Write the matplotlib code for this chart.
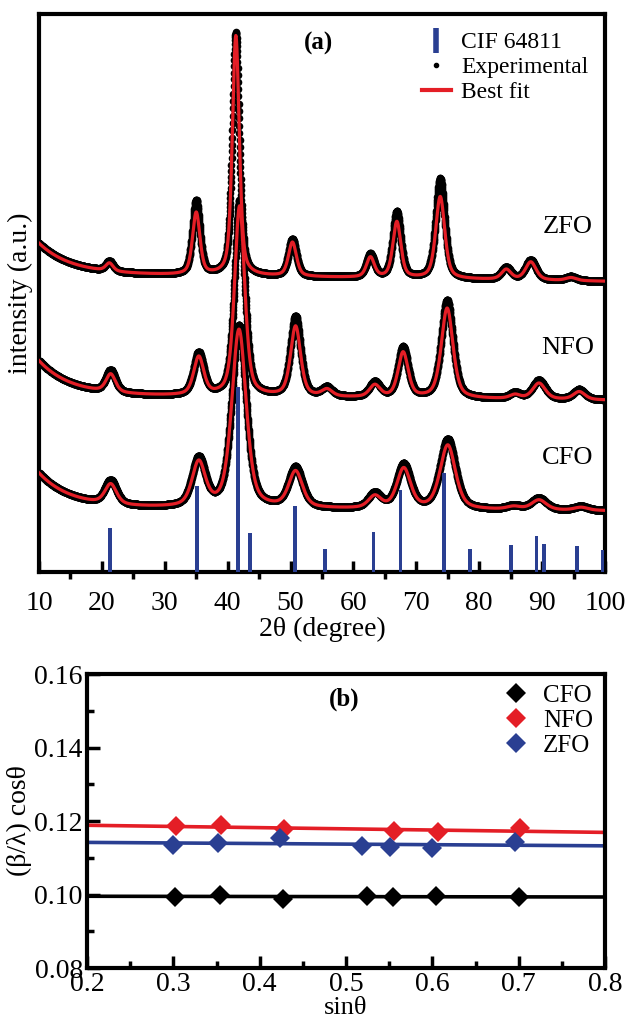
import numpy as np
import matplotlib
matplotlib.use("Agg")
import matplotlib.pyplot as plt
from matplotlib.lines import Line2D
from matplotlib.ticker import MultipleLocator

plt.rcParams['font.family'] = ['Liberation Serif', 'DejaVu Serif']

RED = '#e41e26'
BLUE = '#2a3f92'

# ---------------- (a) XRD patterns ----------------
# reference pattern CIF 64811: positions (2theta) and relative intensities
cif_pos = [21.3, 35.1, 41.6, 43.5, 50.7, 55.5, 63.2, 67.5, 74.4, 78.5, 85.1, 89.1, 90.3, 95.5, 99.6]
cif_int = [44, 86, 185, 39, 66, 23, 40, 82, 99, 23, 27, 36, 28, 26, 22]

# fitted peaks: position, fitted height, FWHM, observed height (stacked intensities, a.u.)
zfo_pos = [21.2, 35.0, 41.3, 50.3, 62.7, 66.9, 73.8, 84.3, 88.2, 94.6]
zfo_fit = [8, 62, 240, 34, 20, 56, 82, 10, 18, 3]
zfo_fwhm = [1.4, 1.4, 1.3, 1.5, 1.5, 1.5, 1.7, 1.8, 2.0, 2.0]
zfo_obs = [10, 74, 243, 37, 23, 66, 100, 12, 20, 4]
zfo_bg = [297, -0.09, 30, 5.0]     # level at 30 deg, slope, low-angle amplitude, decay

nfo_pos = [21.4, 35.4, 41.9, 50.8, 55.8, 63.4, 67.9, 74.9, 85.7, 89.5, 95.9]
nfo_fit = [18, 38, 190, 70, 7, 12, 45, 90, 4, 16, 8]
nfo_fwhm = [1.8, 1.9, 1.9, 1.9, 2.0, 2.0, 1.9, 2.2, 2.0, 2.4, 2.2]
nfo_obs = [22, 42, 196, 80, 9, 15, 50, 98, 6, 19, 10]
nfo_bg = [176, -0.06, 34, 5.0]

cfo_pos = [21.4, 35.4, 41.8, 50.8, 63.4, 68.0, 75.0, 85.5, 89.5, 96.2]
cfo_fit = [20, 44, 178, 36, 12, 40, 64, 3, 10, 3]
cfo_fwhm = [2.2, 2.5, 2.7, 2.6, 2.4, 2.6, 2.9, 2.6, 2.8, 2.6]
cfo_obs = [24, 48, 182, 40, 15, 44, 70, 4, 12, 4]
cfo_bg = [64, -0.04, 34, 5.0]

sample_names = ['ZFO', 'NFO', 'CFO']

# ---------------- (b) Williamson-Hall data ----------------
sin_cfo = [0.302, 0.354, 0.427, 0.524, 0.555, 0.604, 0.700]
wh_cfo = [0.0994, 0.0999, 0.0988, 0.0997, 0.0994, 0.0996, 0.0992]
sin_nfo = [0.303, 0.355, 0.428, 0.556, 0.606, 0.702]
wh_nfo = [0.1186, 0.1189, 0.1177, 0.1173, 0.1169, 0.1180]
sin_zfo = [0.300, 0.352, 0.424, 0.519, 0.551, 0.600, 0.696]
wh_zfo = [0.1135, 0.1141, 0.1153, 0.1133, 0.1130, 0.1127, 0.1142]


def pseudo_voigt(x, pos, height, fwhm, eta=0.5):
    d = (x[:, None] - np.asarray(pos)) / np.asarray(fwhm)
    lor = 1.0 / (1.0 + 4.0 * d ** 2)
    gau = np.exp(-4.0 * np.log(2.0) * d ** 2)
    return (np.asarray(height) * (eta * lor + (1 - eta) * gau)).sum(axis=1)


def background(x, level, slope, amp, tau):
    return level + slope * (x - 30) + amp * np.exp(-(x - 10) / tau)


fig = plt.figure(figsize=(6.25, 10.18), dpi=100)
ax = fig.add_axes([0.0624, 0.4381, 0.9056, 0.5481])

tt = np.arange(10, 100.001, 0.03)
series = [
    (zfo_pos, zfo_fit, zfo_fwhm, zfo_obs, zfo_bg),
    (nfo_pos, nfo_fit, nfo_fwhm, nfo_obs, nfo_bg),
    (cfo_pos, cfo_fit, cfo_fwhm, cfo_obs, cfo_bg),
]
for pos, fit, fwhm, obs, bg in series:
    base = background(tt, *bg)
    y_obs = base + pseudo_voigt(tt, pos, obs, fwhm)
    y_fit = base + pseudo_voigt(tt, pos, fit, fwhm)
    ax.plot(tt, y_obs, 'o', ms=5.5, mew=0, color='black', zorder=2)
    ax.plot(tt, y_fit, '-', lw=2.3, color=RED, zorder=4)

ax.bar(cif_pos, cif_int, width=0.6, bottom=0, color=BLUE, zorder=3)

ax.set_xlim(10, 100)
ax.set_ylim(0, 558)
ax.set_yticks([])
ax.xaxis.set_major_locator(MultipleLocator(10))
ax.xaxis.set_minor_locator(MultipleLocator(5))
ax.tick_params(axis='x', which='major', direction='in', length=8, width=2.5,
               labelsize=20, pad=14)
ax.tick_params(axis='x', which='minor', direction='out', length=5, width=2.5)
for s in ax.spines.values():
    s.set_linewidth(3)
ax.set_xlabel('2θ (degree)', fontsize=20, labelpad=0)
ax.set_ylabel('intensity (a.u.)', fontsize=20, labelpad=4)

ax.text(0.493, 0.948, '(a)', transform=ax.transAxes, fontsize=18,
        fontweight='bold', ha='center', va='center')
for name, yy in zip(sample_names, [0.618, 0.401, 0.204]):
    ax.text(0.934, yy, name, transform=ax.transAxes, fontsize=19,
            ha='center', va='center')

handles_a = [
    Line2D([], [], ls='none', marker='|', ms=18, mew=4, color=BLUE),
    Line2D([], [], ls='none', marker='o', ms=3, color='black'),
    Line2D([], [], ls='-', lw=3, color=RED),
]
ax.legend(handles_a, ['CIF 64811', 'Experimental', 'Best fit'],
          loc='upper left', bbox_to_anchor=(0.677, 0.969), frameon=False,
          fontsize=17, handlelength=1.2, handletextpad=0.45,
          labelspacing=0.15, borderpad=0, borderaxespad=0)

# ---------------- panel (b) ----------------
bx = fig.add_axes([0.1392, 0.0491, 0.8288, 0.2888])
sgrid = np.array([0.2, 0.8])
for sx, sy, col, name in [(sin_cfo, wh_cfo, 'black', 'CFO'),
                          (sin_nfo, wh_nfo, RED, 'NFO'),
                          (sin_zfo, wh_zfo, BLUE, 'ZFO')]:
    k, c = np.polyfit(sx, sy, 1)
    bx.plot(sgrid, k * sgrid + c, '-', lw=2.6, color=col, zorder=2)
    bx.plot(sx, sy, 'D', ms=10.5, mew=0, color=col, zorder=3, label=name)

bx.set_xlim(0.2, 0.8)
bx.set_ylim(0.08, 0.16)
bx.xaxis.set_major_locator(MultipleLocator(0.1))
bx.xaxis.set_minor_locator(MultipleLocator(0.05))
bx.yaxis.set_major_locator(MultipleLocator(0.02))
bx.yaxis.set_minor_locator(MultipleLocator(0.01))
bx.xaxis.set_major_formatter(plt.FuncFormatter(lambda v, p: f'{v:.1f}'))
bx.yaxis.set_major_formatter(plt.FuncFormatter(lambda v, p: f'{v:.2f}'))
bx.tick_params(which='major', direction='in', length=9, width=2.5, labelsize=20)
bx.tick_params(which='minor', direction='in', length=5, width=2.5)
bx.tick_params(axis='x', which='major', pad=3)
bx.tick_params(axis='y', which='major', pad=3)
for s in bx.spines.values():
    s.set_linewidth(3)
bx.set_xlabel('sinθ', fontsize=19, labelpad=0)
bx.set_ylabel('(β/λ) cosθ', fontsize=20, labelpad=2)
bx.text(0.496, 0.915, '(b)', transform=bx.transAxes, fontsize=18,
        fontweight='bold', ha='center', va='center')
bx.legend(loc='upper left', bbox_to_anchor=(0.805, 0.965), frameon=False,
          fontsize=18, handlelength=1.0, handletextpad=0.55,
          labelspacing=0.1, borderpad=0, borderaxespad=0)

fig.savefig('out.png', dpi=100)
